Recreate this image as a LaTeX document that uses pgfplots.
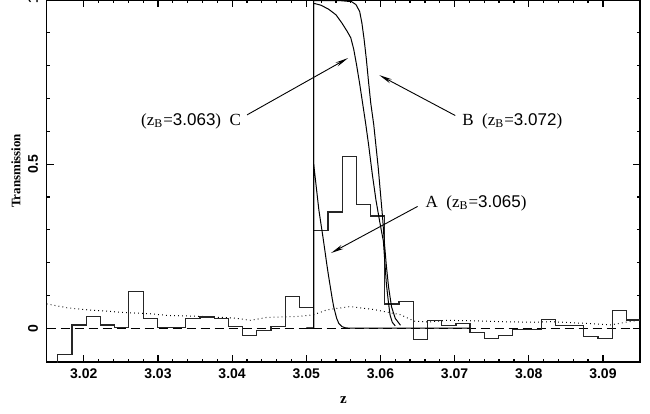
\documentclass[border=0pt]{standalone}
\usepackage{fontspec}
\setmainfont{Liberation Serif}
\setsansfont{Liberation Sans}
\usepackage{pgfplots}
\pgfplotsset{compat=1.18}
\usetikzlibrary{arrows.meta}

\begin{document}
\begin{tikzpicture}
\begin{axis}[
  scale only axis, width=296.65pt, height=181pt,
  xmin=3.015, xmax=3.095, ymin=-0.103, ymax=1.0,
  axis line style={line width=0.7pt},
  xtick={3.02,3.03,3.04,3.05,3.06,3.07,3.08,3.09},
  xticklabels={3.02,3.03,3.04,3.05,3.06,3.07,3.08,3.09},
  minor x tick num=4,
  ytick={0,0.5,1}, yticklabels={0,0.5,1},
  minor y tick num=4,
  tick align=inside,
  major tick length=3.5pt, minor tick length=1.7pt,
  every tick/.style={line width=0.6pt, black},
  xticklabel style={font=\sffamily\bfseries\fontsize{7}{8}\selectfont, inner sep=0pt, yshift=-3.15pt},
  yticklabel style={font=\sffamily\bfseries\fontsize{7}{8}\selectfont, inner sep=0pt, xshift=-4.2pt, rotate=90, anchor=south},
  xlabel={z},
  xlabel style={at={(axis description cs:0.5,-0.105)}, anchor=center, inner sep=0pt, font=\bfseries\fontsize{7.5}{9}\selectfont},
  ylabel={Transmission},
  ylabel style={at={(axis description cs:-0.0517,0.528)}, anchor=center, inner sep=0pt, font=\bfseries\fontsize{6.5}{8}\selectfont},
]
% zero level
\addplot[black, line width=0.5pt, dash pattern=on 4.5pt off 2.5pt] coordinates {(3.015,0) (3.095,0)};
% noise (dotted)
\addplot[black, line width=0.5pt, dash pattern=on 0.4pt off 1.6pt] table {
3.0150 0.074
3.0178 0.062
3.0205 0.056
3.0236 0.051
3.0260 0.047
3.0272 0.046
3.0290 0.044
3.0312 0.039
3.0357 0.036
3.0402 0.031
3.0425 0.024
3.0447 0.033
3.0492 0.036
3.0510 0.041
3.0528 0.056
3.0559 0.066
3.0591 0.057
3.0627 0.041
3.0645 0.022
3.0665 0.019
3.0690 0.024
3.0717 0.023
3.0762 0.020
3.0806 0.018
3.0829 0.020
3.0874 0.015
3.0910 0.010
3.0941 0.022
3.0950 0.025
};
% observed histogram
\addplot[black!85, line width=0.6pt, const plot mark left] table {
3.01470 -0.200
3.01650 -0.079
3.01842 0.010
3.02033 0.035
3.02225 0.010
3.02417 0.002
3.02608 0.112
3.02800 0.030
3.02992 0.003
3.03184 0.003
3.03375 0.030
3.03567 0.034
3.03759 0.030
3.03950 0.005
3.04142 -0.023
3.04334 -0.006
3.04525 0.005
3.04717 0.097
3.04909 0.064
3.05101 0.298
3.05292 0.354
3.05484 0.523
3.05676 0.377
3.05867 0.342
3.06059 0.074
3.06251 0.081
3.06443 -0.034
3.06634 0.023
3.06826 0.008
3.07018 0.015
3.07209 -0.013
3.07401 -0.031
3.07593 -0.022
3.07784 -0.005
3.07976 -0.005
3.08168 0.027
3.08360 0.008
3.08551 0.008
3.08743 -0.026
3.08935 -0.031
3.09126 0.053
3.09318 0.025
3.09510 0.025
};
% model A
\addplot[black, line width=0.5pt] table {
3.0500 0
3.0510 0
3.0510 0.50
3.0514 0.42
3.0517 0.36
3.0521 0.30
3.0523 0.27
3.0528 0.19
3.0530 0.16
3.0535 0.09
3.0537 0.065
3.0541 0.030
3.0544 0.014
3.0548 0.005
3.0553 0.001
3.0560 0
3.0721 0
};
% model C
\addplot[black, line width=0.5pt] table {
3.0500 0
3.0510 0
3.0510 0.990
3.0520 0.984
3.0530 0.972
3.0540 0.955
3.0548 0.930
3.0555 0.905
3.0560 0.885
3.0564 0.850
3.0568 0.800
3.0572 0.745
3.0576 0.685
3.0580 0.625
3.0584 0.560
3.0589 0.470
3.0594 0.390
3.0599 0.325
3.0604 0.265
3.0606 0.200
3.0608 0.135
3.0611 0.075
3.0613 0.040
3.0616 0.018
3.0620 0.007
};
% model B
\addplot[black, line width=0.5pt] table {
3.0500 0
3.0510 0
3.0510 0.998
3.0546 0.998
3.0561 0.995
3.0567 0.986
3.0572 0.965
3.0575 0.930
3.0578 0.880
3.0581 0.820
3.0584 0.750
3.0587 0.685
3.0591 0.620
3.0597 0.490
3.0603 0.335
3.0605 0.270
3.0608 0.190
3.0611 0.125
3.0615 0.065
3.0620 0.030
3.0627 0.009
};
% annotations
\draw[line width=0.45pt, -{Stealth[length=6.5pt,width=2.2pt]}] (axis cs:3.04202,0.650) -- (axis cs:3.05563,0.823);
\draw[line width=0.45pt, -{Stealth[length=6.5pt,width=2.2pt]}] (axis cs:3.07009,0.648) -- (axis cs:3.05985,0.771);
\draw[line width=0.45pt, -{Stealth[length=6.5pt,width=2.2pt]}] (axis cs:3.06501,0.371) -- (axis cs:3.05334,0.229);
\node[anchor=base east, inner sep=0pt, font=\fontsize{8.5}{10}\selectfont] at (axis cs:3.04125,0.617) {(z\textsubscript{B}=\textsf{3.063})\ \ C};
\node[anchor=base west, inner sep=0pt, font=\fontsize{8.5}{10}\selectfont] at (axis cs:3.0710,0.617) {B\ \ (z\textsubscript{B}=\textsf{3.072})};
\node[anchor=base west, inner sep=0pt, font=\fontsize{8.5}{10}\selectfont] at (axis cs:3.06605,0.368) {A\ \ (z\textsubscript{B}=\textsf{3.065})};
\end{axis}
\pgfresetboundingbox
\path[use as bounding box] ([xshift=-23.35pt,yshift=-25.5pt]current axis.south west) rectangle ([xshift=5pt]current axis.north east);
\end{tikzpicture}
\end{document}
